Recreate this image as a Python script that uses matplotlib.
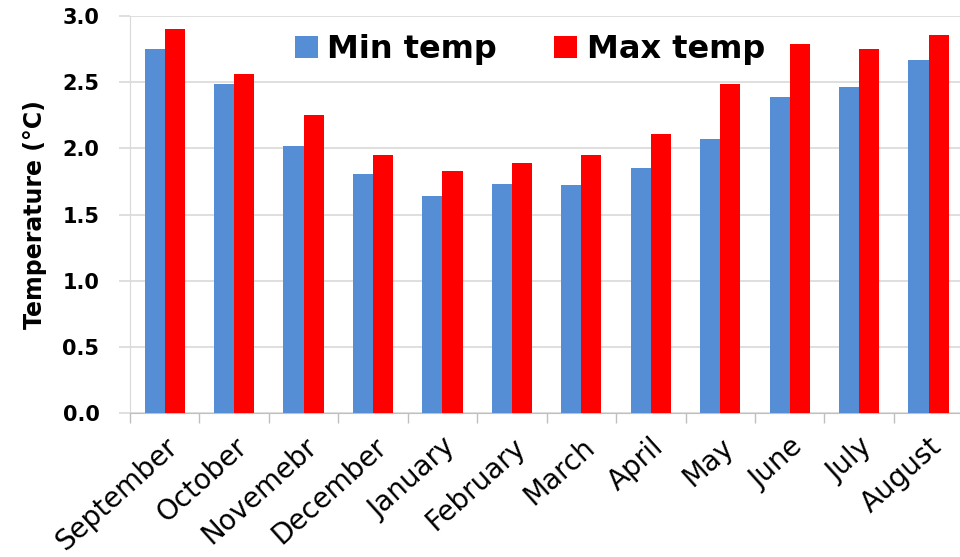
import numpy as np
import matplotlib
matplotlib.use("Agg")
import matplotlib.pyplot as plt

# Chart data
months = ["September", "October", "Novemebr", "December", "January", "February",
          "March", "April", "May", "June", "July", "August"]
min_temp = [2.75, 2.49, 2.02, 1.81, 1.64, 1.73, 1.72, 1.85, 2.07, 2.39, 2.46, 2.67]
max_temp = [2.90, 2.56, 2.25, 1.95, 1.83, 1.89, 1.95, 2.11, 2.49, 2.79, 2.75, 2.86]
y_ticks = [0.0, 0.5, 1.0, 1.5, 2.0, 2.5, 3.0]

plt.rcParams['font.family'] = ['DejaVu Sans']

fig = plt.figure(figsize=(9.6, 5.57), dpi=100)
ax = fig.add_axes([0.1354, 0.2585, 0.868, 0.7127])

x = np.arange(len(months))
w = 0.29
ax.bar(x - w / 2, min_temp, w, color="#558ED5", label="Min temp", zorder=3)
ax.bar(x + w / 2, max_temp, w, color="#FF0000", label="Max temp", zorder=3)

ax.set_xlim(-0.5, len(months) - 0.5)
ax.set_ylim(0, 3.0)
ax.set_yticks(y_ticks)
ax.set_yticklabels([f"{v:.1f}" for v in y_ticks], fontsize=15, fontweight="bold")
ax.yaxis.grid(True, color="#D9D9D9", linewidth=1.2, zorder=0)

# category separators as x ticks, names centred on the groups
ax.set_xticks(np.arange(-0.5, len(months), 1.0))
ax.set_xticklabels([])
ax.set_xticks(x, minor=True)
ax.set_xticklabels(months, minor=True, rotation=42, ha="right",
                   rotation_mode="anchor", fontsize=20)
ax.tick_params(axis="x", which="major", length=7, color="#BFBFBF", width=1)
ax.tick_params(axis="x", which="minor", length=0, pad=14)
ax.tick_params(axis="y", length=8, color="#D9D9D9", width=1.2, pad=14)

for side in ["top", "right"]:
    ax.spines[side].set_visible(False)
ax.spines["left"].set_color("#D9D9D9")
ax.spines["bottom"].set_color("#BFBFBF")

ax.set_ylabel("Temperature (°C)", fontsize=17, fontweight="bold", labelpad=11)

ax.legend(loc="center", bbox_to_anchor=(0.48, 0.915), ncol=2, frameon=False,
          prop={"size": 23, "weight": "bold"}, handlelength=0.72, handleheight=0.65,
          columnspacing=1.8, handletextpad=0.3)

fig.savefig("out.png", dpi=100)
